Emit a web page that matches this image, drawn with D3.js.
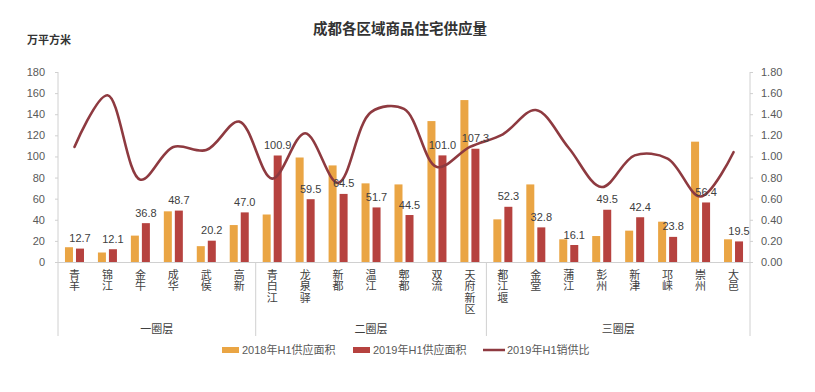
<!DOCTYPE html>
<html><head><meta charset="utf-8">
<script src="https://cdn.jsdelivr.net/npm/d3@7"></script>
<style>
body{margin:0;background:#fff;}
svg text{font-family:"Liberation Sans","Noto Sans CJK SC",sans-serif;}
.vlab{writing-mode:vertical-rl;text-orientation:upright;}
</style></head>
<body><svg id="c" width="815" height="392"></svg>
<script>
const categories = ["青羊","锦江","金牛","成华","武侯","高新","青白江","龙泉驿","新都","温江","郫都","双流","天府新区","都江堰","金堂","蒲江","彭州","新津","邛崃","崇州","大邑"];
const groups = [{name:"一圈层", from:"青羊", to:"高新"},{name:"二圈层", from:"青白江", to:"天府新区"},{name:"三圈层", from:"都江堰", to:"大邑"}];
const supply2018 = [14,9,25,48,15,35,45,99,91.5,74.5,73.5,133.5,153.4,40.4,73.5,21.5,24.6,29.7,38.2,114,21.5];
const supply2019 = [12.7,12.1,36.8,48.7,20.2,47.0,100.9,59.5,64.5,51.7,44.5,101.0,107.3,52.3,32.8,16.1,49.5,42.4,23.8,56.4,19.5];
const ratio2019 = [1.09,1.58,0.78,1.09,1.06,1.33,0.79,1.22,0.75,1.42,1.45,0.90,1.09,1.21,1.44,1.08,0.71,1.01,0.98,0.62,1.04];
const leftTicks = [0,20,40,60,80,100,120,140,160,180];
const rightTicks = [0,0.2,0.4,0.6,0.8,1.0,1.2,1.4,1.6,1.8];
const seriesNames = ["2018年H1供应面积","2019年H1供应面积","2019年H1销供比"];
const title = "成都各区域商品住宅供应量";
const unitLabel = "万平方米";

const colors = {o:"#EAA544", r:"#B6423F", line:"#8E3A40", axis:"#D0D0D0", text:"#404040"};
const L=58, R=750, T=72, B=262;
const svg = d3.select("#c");

const x = d3.scaleBand().domain(categories).range([L,R]).paddingInner(0.423).paddingOuter(0.2115);
const x1 = d3.scaleBand().domain(["a","b"]).range([0,x.bandwidth()]).paddingInner(0.273);
const y = d3.scaleLinear().domain([0,180]).range([B,T]);
const y2 = d3.scaleLinear().domain([0,1.8]).range([B,T]);

// title & unit
svg.append("text").attr("x",400).attr("y",34).attr("text-anchor","middle")
  .attr("font-size",14.5).attr("font-weight","bold").attr("fill","#333").text(title);
svg.append("text").attr("x",27).attr("y",44).attr("font-size",11).attr("font-weight","bold").attr("fill","#333").text(unitLabel);

// axes
const ga = svg.append("g").attr("transform",`translate(${L},0)`)
  .call(d3.axisLeft(y).tickValues(leftTicks).tickSize(3).tickPadding(10).tickFormat(d3.format("d")));
const gb = svg.append("g").attr("transform",`translate(${R},0)`)
  .call(d3.axisRight(y2).tickValues(rightTicks).tickSize(3).tickPadding(8).tickFormat(d3.format(".2f")));
[ga,gb].forEach(g=>{
  g.select(".domain").remove();
  g.selectAll(".tick line").attr("stroke",colors.axis);
  g.selectAll(".tick text").attr("fill","#595959").attr("font-size",11).style("font-family","Liberation Sans, sans-serif");
});
// vertical frame/group lines
const bounds = [L, x(groups[1].from)-x.step()*x.paddingInner()/2, x(groups[2].from)-x.step()*x.paddingInner()/2, R];
svg.append("g").selectAll("line").data(bounds).join("line")
  .attr("x1",d=>d).attr("x2",d=>d)
  .attr("y1",(d,i)=> (i===0||i===3)?T:B).attr("y2",336)
  .attr("stroke",colors.axis).attr("stroke-width",1);
svg.append("line").attr("x1",L).attr("x2",R).attr("y1",B+0.5).attr("y2",B+0.5).attr("stroke",colors.axis);

// bars
const gBars = svg.append("g");
gBars.selectAll("rect.o").data(categories).join("rect").attr("class","o")
  .attr("x",d=>x(d)+x1("a")).attr("width",x1.bandwidth())
  .attr("y",(d,i)=>y(supply2018[i])).attr("height",(d,i)=>B-y(supply2018[i]))
  .attr("fill",colors.o);
gBars.selectAll("rect.r").data(categories).join("rect").attr("class","r")
  .attr("x",d=>x(d)+x1("b")).attr("width",x1.bandwidth())
  .attr("y",(d,i)=>y(supply2019[i])).attr("height",(d,i)=>B-y(supply2019[i]))
  .attr("fill",colors.r);

// line
const line = d3.line().x((d,i)=>x(categories[i])+x.bandwidth()/2).y(d=>y2(d)).curve(d3.curveCatmullRom.alpha(0.5));
svg.append("path").datum(ratio2019).attr("d",line).attr("fill","none")
  .attr("stroke",colors.line).attr("stroke-width",2.6).attr("stroke-linecap","round");

// data labels
svg.append("g").selectAll("text").data(categories).join("text")
  .attr("x",d=>x(d)+x1("b")+x1.bandwidth()/2)
  .attr("y",(d,i)=>y(supply2019[i])-6.5)
  .attr("text-anchor","middle").attr("font-size",11).attr("fill",colors.text)
  .text((d,i)=>supply2019[i].toFixed(1));

// x labels (vertical)
svg.append("g").selectAll("text").data(categories).join("text")
  .attr("class","vlab")
  .attr("x",d=>x(d)+x.bandwidth()/2).attr("y",269)
  .attr("font-size",11).attr("fill",colors.text)
  .style("letter-spacing","0.5px")
  .style("font-family","Noto Sans CJK SC, sans-serif")
  .text(d=>d);

// group labels
svg.append("g").selectAll("text").data(groups).join("text")
  .attr("x",(g,i)=>(bounds[i]+bounds[i+1])/2).attr("y",333)
  .attr("text-anchor","middle").attr("font-size",11).attr("fill",colors.text)
  .style("font-family","Noto Sans CJK SC, sans-serif").text(g=>g.name);

// legend
const lg = svg.append("g");
const items = [{x:222,type:"bar",c:colors.o,t:seriesNames[0]},{x:353,type:"bar",c:colors.r,t:seriesNames[1]},{x:483,type:"line",c:colors.line,t:seriesNames[2]}];
items.forEach(it=>{
  if(it.type==="bar") lg.append("rect").attr("x",it.x).attr("y",347).attr("width",17).attr("height",6).attr("fill",it.c);
  else lg.append("line").attr("x1",it.x).attr("x2",it.x+22).attr("y1",350).attr("y2",350).attr("stroke",it.c).attr("stroke-width",2.5);
  lg.append("text").attr("x",it.x+(it.type==="bar"?20:24)).attr("y",354).attr("font-size",11).attr("fill","#595959")
    .style("font-family","Liberation Sans, Noto Sans CJK SC, sans-serif").text(it.t);
});
</script></body></html>
